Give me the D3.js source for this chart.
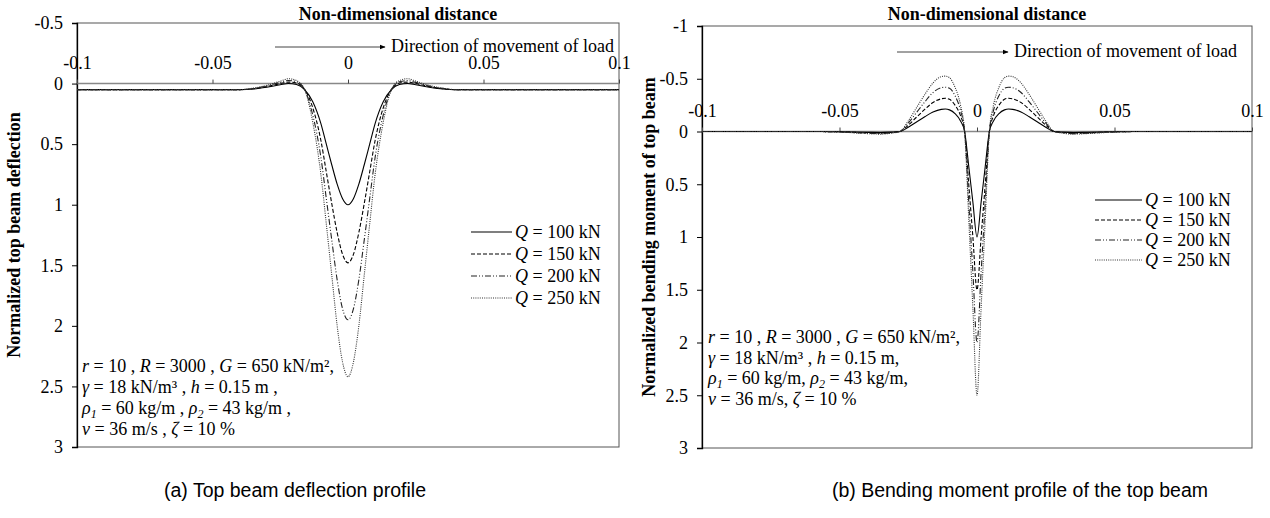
<!DOCTYPE html>
<html>
<head>
<meta charset="utf-8">
<script src="https://cdn.jsdelivr.net/npm/d3@7"></script>
<style>
  body { margin: 0; background: #fff; }
  svg text { font-family: "Liberation Serif", "Times New Roman", serif; fill: #000; }
</style>
</head>
<body>
<svg id="chart" width="1270" height="518"></svg>
<script>
// ---- data ----
const seriesNames = ["100", "150", "200", "250"];

// (a) normalized top beam deflection (positive = downward)
const deflX = [-0.1, -0.06, -0.045, -0.04, -0.035, -0.03, -0.025, -0.022, -0.019, -0.016, -0.013, -0.01, -0.008, -0.006, -0.004, -0.002, 0,
               0.002, 0.004, 0.006, 0.008, 0.01, 0.013, 0.016, 0.019, 0.022, 0.025, 0.03, 0.035, 0.04, 0.045, 0.06, 0.1];
const deflQ100 = [0.05, 0.05, 0.05, 0.05, 0.045, 0.03, 0.01, 0.0, 0.008, 0.05, 0.15, 0.33, 0.5, 0.67, 0.83, 0.95, 1.0,
                  0.95, 0.83, 0.67, 0.5, 0.33, 0.15, 0.05, 0.008, 0.0, 0.01, 0.03, 0.045, 0.05, 0.05, 0.05, 0.05];
const deflQ150 = [0.05, 0.05, 0.05, 0.05, 0.043, 0.025, 0.0, -0.012, -0.005, 0.05, 0.2, 0.47, 0.73, 0.99, 1.23, 1.41, 1.48,
                  1.41, 1.23, 0.99, 0.73, 0.47, 0.2, 0.05, -0.005, -0.012, 0.0, 0.025, 0.043, 0.05, 0.05, 0.05, 0.05];
const deflQ200 = [0.05, 0.05, 0.05, 0.05, 0.04, 0.02, -0.01, -0.025, -0.015, 0.05, 0.26, 0.61, 0.95, 1.29, 1.62, 1.86, 1.95,
                  1.86, 1.62, 1.29, 0.95, 0.61, 0.26, 0.05, -0.015, -0.025, -0.01, 0.02, 0.04, 0.05, 0.05, 0.05, 0.05];
const deflQ250 = [0.05, 0.05, 0.05, 0.05, 0.038, 0.015, -0.02, -0.04, -0.025, 0.05, 0.32, 0.75, 1.16, 1.58, 2.0, 2.3, 2.42,
                  2.3, 2.0, 1.58, 1.16, 0.75, 0.32, 0.05, -0.025, -0.04, -0.02, 0.015, 0.038, 0.05, 0.05, 0.05, 0.05];

// (b) normalized bending moment of top beam
const momX = [-0.1, -0.06, -0.05, -0.04, -0.035, -0.031, -0.028, -0.025, -0.022, -0.019, -0.016, -0.013, -0.0115, -0.01, -0.008, -0.006, -0.0045, -0.003, -0.0015, 0,
              0.0015, 0.003, 0.0045, 0.006, 0.008, 0.01, 0.0115, 0.013, 0.016, 0.019, 0.022, 0.025, 0.028, 0.031, 0.035, 0.04, 0.05, 0.06, 0.1];
const momQ100 = [0, 0, 0.002, 0.008, 0.01, 0.006, 0, -0.04, -0.09, -0.14, -0.185, -0.21, -0.213, -0.205, -0.17, -0.1, 0, 0.33, 0.67, 1.0,
                 0.67, 0.33, 0, -0.1, -0.17, -0.205, -0.213, -0.21, -0.185, -0.14, -0.09, -0.04, 0, 0.006, 0.01, 0.008, 0.002, 0, 0];
const momQ150 = [0, 0, 0.003, 0.012, 0.015, 0.009, 0, -0.06, -0.135, -0.21, -0.275, -0.31, -0.315, -0.305, -0.25, -0.15, 0, 0.5, 1.0, 1.5,
                 1.0, 0.5, 0, -0.15, -0.25, -0.305, -0.315, -0.31, -0.275, -0.21, -0.135, -0.06, 0, 0.009, 0.015, 0.012, 0.003, 0, 0];
const momQ200 = [0, 0, 0.004, 0.016, 0.02, 0.012, 0, -0.08, -0.18, -0.28, -0.37, -0.415, -0.42, -0.41, -0.34, -0.2, 0, 0.67, 1.33, 2.0,
                 1.33, 0.67, 0, -0.2, -0.34, -0.41, -0.42, -0.415, -0.37, -0.28, -0.18, -0.08, 0, 0.012, 0.02, 0.016, 0.004, 0, 0];
const momQ250 = [0, 0, 0.005, 0.02, 0.025, 0.015, 0, -0.1, -0.225, -0.35, -0.46, -0.52, -0.525, -0.51, -0.42, -0.25, 0, 0.83, 1.67, 2.5,
                 1.67, 0.83, 0, -0.25, -0.42, -0.51, -0.525, -0.52, -0.46, -0.35, -0.225, -0.1, 0, 0.015, 0.025, 0.02, 0.005, 0, 0];

// tick values
const xTicks = [-0.1, -0.05, 0, 0.05, 0.1];
const deflYTicks = [-0.5, 0, 0.5, 1, 1.5, 2, 2.5, 3];
const momYTicks = [-1, -0.5, 0, 0.5, 1, 1.5, 2, 2.5, 3];

// line styles per series
const dashes = [null, "4,2", "6,2,1,2,1,2", "1,1.2"];
const strokes = ["#000", "#000", "#222", "#333"];

const serif = "'Liberation Serif', 'Times New Roman', serif";
const svg = d3.select("#chart");

svg.append("defs").append("marker")
   .attr("id", "arrow")
   .attr("viewBox", "0 0 10 10")
   .attr("refX", 9).attr("refY", 5)
   .attr("markerWidth", 6).attr("markerHeight", 6)
   .attr("orient", "auto")
   .append("path")
   .attr("d", "M0,1 L10,5 L0,9 Z")
   .attr("fill", "#000");

// draw one panel
function drawPanel(cfg) {
    const x = d3.scaleLinear().domain([-0.1, 0.1]).range([cfg.left, cfg.right]);
    const y = d3.scaleLinear().domain(cfg.yDomain).range([cfg.top, cfg.bottom]);
    const g = svg.append("g");

    // frame
    g.append("rect")
     .attr("x", cfg.left).attr("y", cfg.top)
     .attr("width", cfg.right - cfg.left).attr("height", cfg.bottom - cfg.top)
     .attr("fill", "none").attr("stroke", "#555").attr("stroke-width", 1);

    // y axis
    const yAxis = g.append("g")
       .attr("transform", `translate(${cfg.left},0)`)
       .call(d3.axisLeft(y).tickValues(cfg.yTicks).tickSize(5).tickPadding(9).tickFormat(d => String(d)));
    yAxis.attr("font-family", null);
    yAxis.select(".domain").attr("stroke", "#000").attr("stroke-width", 1.3);
    yAxis.selectAll("text").attr("font-size", 18).style("font-family", serif);

    // zero line
    g.append("line")
     .attr("x1", cfg.left).attr("x2", cfg.right)
     .attr("y1", y(0)).attr("y2", y(0))
     .attr("stroke", "#888").attr("stroke-width", 1.5);

    // x axis at y = 0, labels above
    const xAxis = g.append("g")
       .attr("transform", `translate(0,${y(0)})`)
       .call(d3.axisTop(x).tickValues(xTicks).tickSize(4).tickPadding(11).tickFormat(d => String(d)));
    xAxis.attr("font-family", null);
    xAxis.select(".domain").remove();
    xAxis.selectAll("line").attr("stroke", "#444");
    xAxis.selectAll("text").attr("font-size", 18).style("font-family", serif);

    // curves
    const line = d3.line()
       .x(d => x(d[0]))
       .y(d => y(d[1]))
       .curve(d3.curveMonotoneX);

    cfg.series.forEach((vals, i) => {
        const pts = cfg.xs.map((v, k) => [v, vals[k]]);
        g.append("path")
         .datum(pts)
         .attr("d", line)
         .attr("fill", "none")
         .attr("stroke", strokes[i])
         .attr("stroke-width", 1.1)
         .attr("stroke-dasharray", dashes[i]);
    });

    // axis titles
    g.append("text")
     .attr("x", cfg.titleX).attr("y", 20)
     .attr("text-anchor", "middle")
     .attr("font-size", 18).attr("font-weight", "bold")
     .text("Non-dimensional distance");

    g.append("text")
     .attr("transform", `translate(${cfg.yTitleX},${(cfg.top + cfg.bottom) / 2}) rotate(-90)`)
     .attr("text-anchor", "middle")
     .attr("font-size", 18).attr("font-weight", "bold")
     .text(cfg.yTitle);

    // direction arrow
    g.append("line")
     .attr("x1", cfg.arrow[0]).attr("x2", cfg.arrow[1])
     .attr("y1", cfg.arrow[2]).attr("y2", cfg.arrow[2])
     .attr("stroke", "#444").attr("stroke-width", 1)
     .attr("marker-end", "url(#arrow)");
    g.append("text")
     .attr("x", cfg.arrow[1] + 6).attr("y", cfg.arrow[2] + 5)
     .attr("font-size", 18)
     .text("Direction of movement of load");

    // legend
    seriesNames.forEach((name, i) => {
        const ly = cfg.legend.y + i * cfg.legend.step;
        g.append("line")
         .attr("x1", cfg.legend.x).attr("x2", cfg.legend.x + cfg.legend.len)
         .attr("y1", ly).attr("y2", ly)
         .attr("stroke", strokes[i]).attr("stroke-width", 1.1)
         .attr("stroke-dasharray", dashes[i]);
        const t = g.append("text")
         .attr("x", cfg.legend.x + cfg.legend.len + 3).attr("y", ly + 6)
         .attr("font-size", 18);
        t.append("tspan").attr("font-style", "italic").text("Q");
        t.append("tspan").text(` = ${name} kN`);
    });

    // parameter notes
    cfg.notes.forEach((parts, i) => {
        const t = g.append("text")
         .attr("x", cfg.noteX).attr("y", cfg.noteY + i * cfg.noteStep)
         .attr("font-size", 18);
        parts.forEach(p => {
            const s = t.append("tspan").text(p.t);
            if (p.i) s.attr("font-style", "italic");
            if (p.sub) s.attr("font-size", 12).attr("dy", 4);
            if (p.up) s.attr("dy", -4);
        });
    });
}

const notesA = [
    [{t: "r", i: 1}, {t: " = 10 , "}, {t: "R", i: 1}, {t: " = 3000 , "}, {t: "G", i: 1}, {t: " = 650 kN/m²,"}],
    [{t: "γ", i: 1}, {t: " = 18 kN/m³ , "}, {t: "h", i: 1}, {t: " = 0.15 m ,"}],
    [{t: "ρ", i: 1}, {t: "1", i: 1, sub: 1}, {t: " = 60 kg/m , ", up: 1}, {t: "ρ", i: 1}, {t: "2", i: 1, sub: 1}, {t: " = 43 kg/m ,", up: 1}],
    [{t: "ν", i: 1}, {t: " = 36 m/s , "}, {t: "ζ", i: 1}, {t: " = 10 %"}]
];
const notesB = [
    [{t: "r", i: 1}, {t: " = 10 , "}, {t: "R", i: 1}, {t: " = 3000 , "}, {t: "G", i: 1}, {t: " = 650 kN/m²,"}],
    [{t: "γ", i: 1}, {t: " = 18 kN/m³ , "}, {t: "h", i: 1}, {t: " = 0.15 m,"}],
    [{t: "ρ", i: 1}, {t: "1", i: 1, sub: 1}, {t: " = 60 kg/m, ", up: 1}, {t: "ρ", i: 1}, {t: "2", i: 1, sub: 1}, {t: " = 43 kg/m,", up: 1}],
    [{t: "ν", i: 1}, {t: " = 36 m/s, "}, {t: "ζ", i: 1}, {t: " = 10 %"}]
];

drawPanel({
    left: 77, right: 619, top: 23, bottom: 447,
    yDomain: [-0.5, 3], yTicks: deflYTicks,
    xs: deflX, series: [deflQ100, deflQ150, deflQ200, deflQ250],
    titleX: 398, yTitleX: 20, yTitle: "Normalized top beam deflection",
    arrow: [275, 385, 47],
    legend: {x: 471, len: 41, y: 232, step: 22},
    notes: notesA, noteX: 82, noteY: 372, noteStep: 21
});

drawPanel({
    left: 702, right: 1252, top: 26, bottom: 448,
    yDomain: [-1, 3], yTicks: momYTicks,
    xs: momX, series: [momQ100, momQ150, momQ200, momQ250],
    titleX: 987, yTitleX: 655, yTitle: "Normalized bending moment of top beam",
    arrow: [897, 1008, 52],
    legend: {x: 1095, len: 47, y: 200, step: 20},
    notes: notesB, noteX: 708, noteY: 343, noteStep: 20.7
});

// captions
svg.append("text")
   .attr("x", 295).attr("y", 497)
   .attr("text-anchor", "middle")
   .style("font-family", "'Liberation Sans', Arial, sans-serif")
   .attr("font-size", 19.5)
   .text("(a) Top beam deflection profile");
svg.append("text")
   .attr("x", 1020).attr("y", 497)
   .attr("text-anchor", "middle")
   .style("font-family", "'Liberation Sans', Arial, sans-serif")
   .attr("font-size", 19.5)
   .text("(b) Bending moment profile of the top beam");
</script>
</body>
</html>
